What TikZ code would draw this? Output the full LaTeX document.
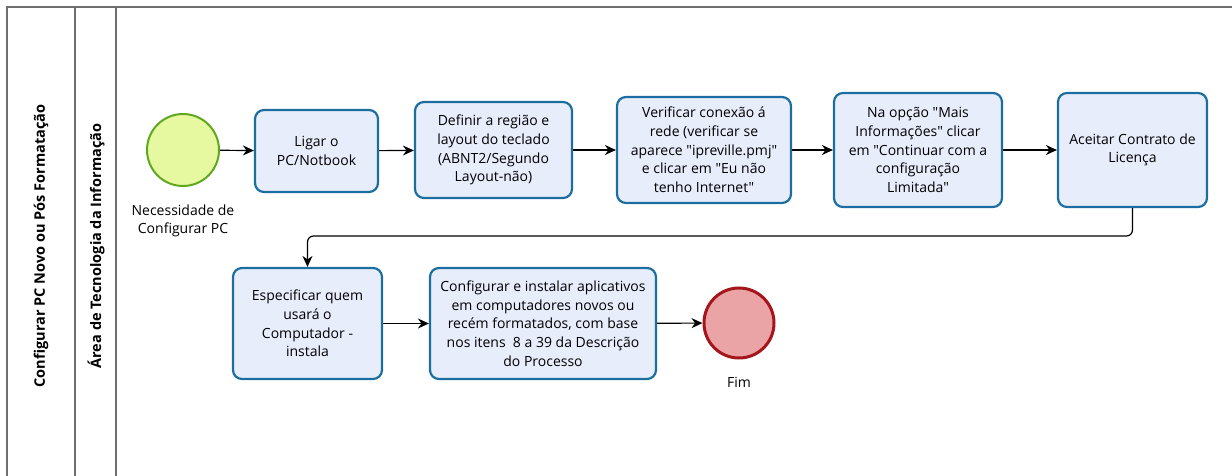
\documentclass[tikz,border=0pt]{standalone}
\usepackage{fontspec}
\newfontfamily\fonte{Open Sans}
\usepackage{tikz}
\usetikzlibrary{arrows.meta}
\usetikzlibrary{positioning}

\definecolor{tarefafundo}{RGB}{232,237,252}
\definecolor{tarefaborda}{RGB}{28,110,160}
\definecolor{iniciofundo}{RGB}{230,248,160}
\definecolor{inicioborda}{RGB}{96,168,32}
\definecolor{fimfundo}{RGB}{235,164,166}
\definecolor{fimborda}{RGB}{165,22,28}
\definecolor{raia}{RGB}{110,110,110}

\tikzset{
	tarefa/.style={draw=tarefaborda, fill=tarefafundo, line width=2.2pt, rounded corners=9pt,
		align=center, inner sep=2pt, font=\fonte\fontsize{14}{18.7}\selectfont},
	inicio/.style={circle, draw=inicioborda, fill=iniciofundo, line width=2pt, inner sep=0pt, minimum size=72pt},
	termino/.style={circle, draw=fimborda, fill=fimfundo, line width=3pt, inner sep=0pt, minimum size=70pt},
	rotulo/.style={align=center, font=\fonte\fontsize{14}{18.7}\selectfont},
	titulo/.style={rotate=90, font=\fonte\fontsize{14.5}{16}\selectfont\bfseries},
	fluxo/.style={-{Stealth[length=11pt,width=10pt]}, line width=1.2pt},
	linharaia/.style={draw=raia, line width=1.6pt}
}

\begin{document}
\begin{tikzpicture}[x=1pt, y=-1pt]
	\useasboundingbox (0,0) rectangle (1232,476);

	\draw[linharaia] (7,476) -- (7,7) -- (1232,7);
	\draw[linharaia] (75,7) -- (75,476);
	\draw[linharaia] (116,7) -- (116,476);
	\node[titulo] (pool) at (41,246) {Configurar PC Novo ou Pós Formatação};
	\node[titulo] (lane) at (96,246) {Área de Tecnologia da Informação};

	\node[inicio] (inicio) at (183,150) {};
	\node[rotulo, below=14pt of inicio] (inicio-rotulo) {Necessidade de\\Configurar PC};

	\node[tarefa, minimum width=123pt, minimum height=82pt] (ligar) at (316.5,151) {Ligar o\\PC/Notbook};
	\node[tarefa, minimum width=157pt, minimum height=96pt] (definir) at (493.5,150) {Definir a região e\\layout do teclado\\(ABNT2/Segundo\\Layout-não)};
	\node[tarefa, minimum width=174pt, minimum height=106pt] (verificar) at (704,150) {Verificar conexão á\\rede (verificar se\\aparece "ipreville.pmj"\\e clicar em "Eu não\\tenho Internet"};
	\node[tarefa, minimum width=168pt, minimum height=114pt] (opcao) at (918,150) {Na opção "Mais\\Informações" clicar\\em "Continuar com a\\configuração\\Limitada"};
	\node[tarefa, minimum width=149pt, minimum height=114pt] (aceitar) at (1132.5,150) {Aceitar Contrato de\\Licença};

	\node[tarefa, minimum width=149pt, minimum height=111pt] (especificar) at (307.5,323.5) {Especificar quem\\usará o\\Computador -\\instala};
	\node[tarefa, minimum width=226pt, minimum height=111pt] (configurar) at (543,323.5) {Configurar e instalar aplicativos\\em computadores novos ou\\recém formatados, com base\\nos itens\ \ 8 a 39 da Descrição\\do Processo};

	\node[termino] (fim) at (739,323) {};
	\node[rotulo, below=14pt of fim] (fim-rotulo) {Fim};

	\coordinate (retorno) at (1132.5,236);

	\draw[fluxo] (inicio) -- (ligar);
	\draw[fluxo] (ligar) -- (definir);
	\draw[fluxo] (definir) -- (verificar);
	\draw[fluxo] (verificar) -- (opcao);
	\draw[fluxo] (opcao) -- (aceitar);
	\draw[fluxo, rounded corners=6pt] (aceitar.south) -- (retorno) -| (especificar.north);
	\draw[fluxo] (especificar) -- (configurar);
	\draw[fluxo] (configurar) -- (fim);
\end{tikzpicture}
\end{document}
